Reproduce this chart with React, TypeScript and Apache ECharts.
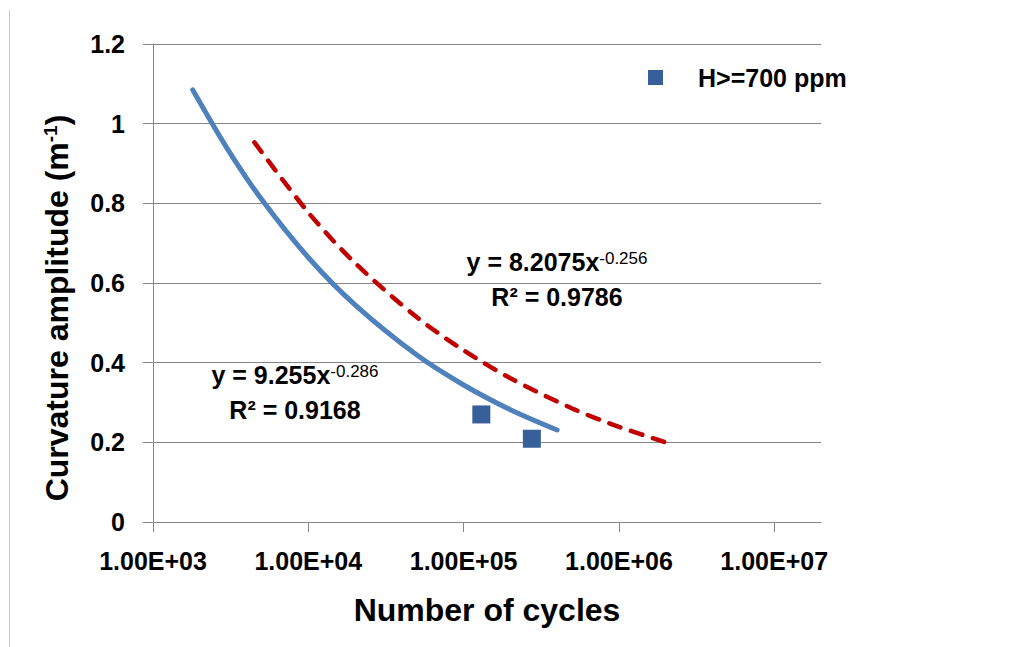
import React, { useEffect, useRef } from "react";
import * as echarts from "echarts";

// ---- data ----
const xTicks = [1e3, 1e4, 1e5, 1e6, 1e7];
const xTickLabels = ["1.00E+03", "1.00E+04", "1.00E+05", "1.00E+06", "1.00E+07"];

const seriesName = "H>=700 ppm";
const cycles = [130000, 275000];
const amplitude = [0.27, 0.209];

// trend line (blue solid)
const blueTrendX = [1800, 3000, 5000, 10000, 20000, 50000, 100000, 200000, 400000];
const blueTrendY = [1.085, 0.938, 0.81, 0.664, 0.545, 0.419, 0.344, 0.282, 0.231];
// trend line (red dashed)
const redTrendX = [4500, 10000, 20000, 50000, 100000, 200000, 500000, 1000000, 2000000];
const redTrendY = [0.953, 0.777, 0.65, 0.514, 0.431, 0.361, 0.285, 0.239, 0.2];

const blueEq = { main: "y = 9.255x", exp: "-0.286", r2: "R² = 0.9168" };
const redEq = { main: "y = 8.2075x", exp: "-0.256", r2: "R² = 0.9786" };

const FONT = "Liberation Sans";
const GRID_COLOR = "#868686";
const MARKER_COLOR = "#37609A";

export default function App() {
  const ref = useRef<HTMLDivElement>(null);

  useEffect(() => {
    if (!ref.current) return;
    const chart = echarts.init(ref.current, undefined, { renderer: "svg" });

    const eqText = (x: number, y: number, eq: { main: string; exp: string; r2: string }) => [
      {
        type: "text",
        x,
        y,
        style: {
          text: `{m|${eq.main}}{s|${eq.exp}}`,
          align: "center",
          verticalAlign: "middle",
          rich: {
            m: { fontSize: 25, fontWeight: "bold", fontFamily: FONT, fill: "#000" },
            s: { fontSize: 17, fontFamily: FONT, fill: "#000", verticalAlign: "top" },
          },
        },
      },
      {
        type: "text",
        x,
        y: y + 35,
        style: {
          text: eq.r2,
          align: "center",
          verticalAlign: "middle",
          fontSize: 25,
          fontWeight: "bold",
          fontFamily: FONT,
          fill: "#000",
        },
      },
    ];

    chart.setOption({
      animation: false,
      backgroundColor: "#fff",
      grid: { left: 153, right: 213, top: 44, bottom: 125, containLabel: false },
      legend: {
        left: 643,
        top: 60,
        icon: "rect",
        itemWidth: 15,
        itemHeight: 15,
        data: [seriesName],
        itemStyle: { color: MARKER_COLOR, opacity: 1 },
        textStyle: {
          fontFamily: FONT,
          fontWeight: "bold",
          fontSize: 25,
          color: "#000",
          padding: [0, 0, 0, 30],
        },
      },
      xAxis: {
        type: "log",
        logBase: 10,
        min: 1000,
        max: 20000000,
        axisLine: { show: true, lineStyle: { color: GRID_COLOR, width: 1 } },
        axisTick: {
          show: true,
          inside: false,
          length: 10,
          customValues: xTicks,
          lineStyle: { color: GRID_COLOR },
        },
        minorTick: { show: false },
        splitLine: { show: false },
        axisLabel: {
          customValues: xTicks,
          margin: 26,
          fontFamily: FONT,
          fontWeight: "bold",
          fontSize: 25,
          color: "#000",
          formatter: (v: number) => {
            const i = xTicks.findIndex((t) => Math.abs(Math.log10(t) - Math.log10(v)) < 1e-6);
            return i >= 0 ? xTickLabels[i] : "";
          },
        },
      },
      yAxis: {
        type: "value",
        min: 0,
        max: 1.2,
        interval: 0.2,
        axisLine: { show: true, lineStyle: { color: GRID_COLOR, width: 1 } },
        axisTick: { show: true, inside: false, length: 10, lineStyle: { color: GRID_COLOR } },
        splitLine: { show: true, lineStyle: { color: GRID_COLOR, width: 1 } },
        axisLabel: {
          margin: 28,
          fontFamily: FONT,
          fontWeight: "bold",
          fontSize: 25,
          color: "#000",
          formatter: (v: number) => String(Math.round(v * 10) / 10),
        },
      },
      series: [
        {
          name: "Power (trend 1)",
          type: "line",
          data: blueTrendX.map((x, i) => [x, blueTrendY[i]]),
          showSymbol: false,
          smooth: 0.3,
          lineStyle: { color: "#4F81BD", width: 5, cap: "round" },
          z: 2,
        },
        {
          name: "Power (trend 2)",
          type: "line",
          data: redTrendX.map((x, i) => [x, redTrendY[i]]),
          showSymbol: false,
          smooth: 0.3,
          lineStyle: { color: "#C00000", width: 4.5, type: [12, 11], cap: "round" },
          z: 2,
        },
        {
          name: seriesName,
          type: "scatter",
          data: cycles.map((x, i) => [x, amplitude[i]]),
          symbol: "rect",
          symbolSize: 18,
          itemStyle: { color: MARKER_COLOR, opacity: 1 },
          z: 3,
        },
      ],
      graphic: [
        {
          type: "line",
          shape: { x1: 9.5, y1: 10, x2: 9.5, y2: 647 },
          style: { stroke: "#c8c8c8", lineWidth: 1 },
        },
        {
          type: "text",
          x: 57,
          y: 308,
          rotation: Math.PI / 2,
          style: {
            text: "{m|Curvature amplitude (m}{s|-1}{m|)}",
            align: "center",
            verticalAlign: "middle",
            rich: {
              m: { fontSize: 32, fontWeight: "bold", fontFamily: FONT, fill: "#000" },
              s: { fontSize: 19, fontWeight: "bold", fontFamily: FONT, fill: "#000", verticalAlign: "top" },
            },
          },
        },
        {
          type: "text",
          x: 487,
          y: 610,
          style: {
            text: "Number of cycles",
            align: "center",
            verticalAlign: "middle",
            fontSize: 32,
            fontWeight: "bold",
            fontFamily: FONT,
            fill: "#000",
          },
        },
        ...eqText(557, 262, redEq),
        ...eqText(295, 375, blueEq),
      ],
    });

    return () => chart.dispose();
  }, []);

  return (
    <div
      ref={ref}
      style={{ position: "fixed", left: 0, top: 0, width: 1034, height: 647, background: "#fff" }}
    />
  );
}
